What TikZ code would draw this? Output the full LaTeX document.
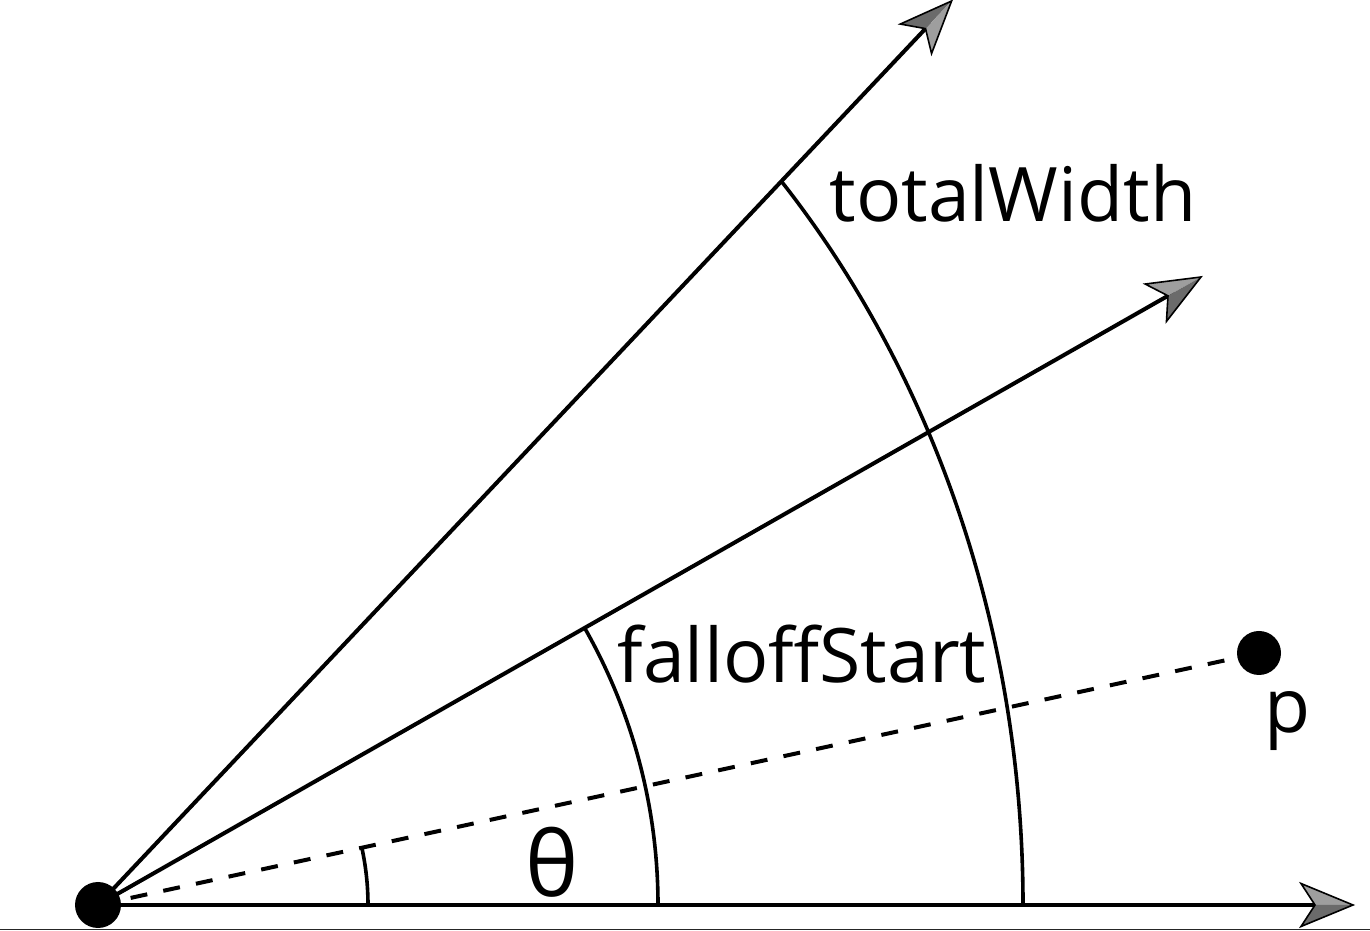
\documentclass[tikz,border=0pt]{standalone}
\usepackage{fontspec}
\setmainfont{Open Sans}
\begin{document}
\begin{tikzpicture}[x=0.5pt,y=0.5pt,
  ray/.style={line width=2pt},
  arcline/.style={line width=1.8pt},
  dashline/.style={line width=2pt, dash pattern=on 8.5pt off 8.2pt},
  dot/.style={circle, fill=black, inner sep=0pt, minimum size=#1},
  lbl/.style={font=\fontsize{37.6}{40}\selectfont, inner sep=0pt, anchor=base},
  pics/ahead/.style 2 args={code={
    \fill[#1] (0,0) -- (-52,21.5) -- (-38,0) -- cycle;
    \fill[#2] (0,0) -- (-38,0) -- (-52,-21.5) -- cycle;
    \draw[line width=0.8pt, line join=miter] (0,0) -- (-52,21.5) -- (-38,0) -- (-52,-21.5) -- cycle;
  }}]
\useasboundingbox (0,0) rectangle (1370,931);
\colorlet{ahlight}{black!38}
\colorlet{ahdark}{black!58}
% bottom border line
\draw[line width=0.6pt, black!85] (0,1.2) -- (1370,1.2);
% coordinates
\coordinate (O) at (98,26);
\coordinate (TH) at (1353,26);
\coordinate (TU) at (951.6,930);
\coordinate (TM) at (1201,654);
% rays
\draw[ray, shorten >=15pt] (O) -- (TH);
\draw[ray, shorten >=15pt] (O) -- (TU);
\draw[ray, shorten >=15pt] (O) -- (TM);
\pic at (TH) {ahead={ahlight}{ahdark}};
\pic[rotate=46.67] at (TU) {ahead={ahdark}{ahlight}};
\pic[rotate=29.66] at (TM) {ahead={ahlight}{ahdark}};
% dots
\node[dot=23pt] (o) at (O) {};
\node[dot=22pt] (p) at (1259,278) {};
\draw[dashline] (O) -- (p);
% arcs
\coordinate (A0) at (368,26);
\coordinate (A1) at (658,26);
\coordinate (A2) at (1023,26);
\draw[arcline] (A0) arc[start angle=0, end angle=12.1, radius=270];
\draw[arcline] (A1) arc[start angle=0, end angle=29.6, radius=560];
\draw[arcline] (A2) arc[start angle=0, end angle=42.3, x radius=925, y radius=1074];
% labels
\node[lbl] (tw) at (1013,709) {totalWidth};
\node[lbl] (fs) at (802,248) {falloffStart};
\node[lbl, font=\fontsize{45}{48}\selectfont] (th) at (552,34) {θ};
\node[lbl] (pl) at (1288,198) {p};
\end{tikzpicture}
\end{document}
